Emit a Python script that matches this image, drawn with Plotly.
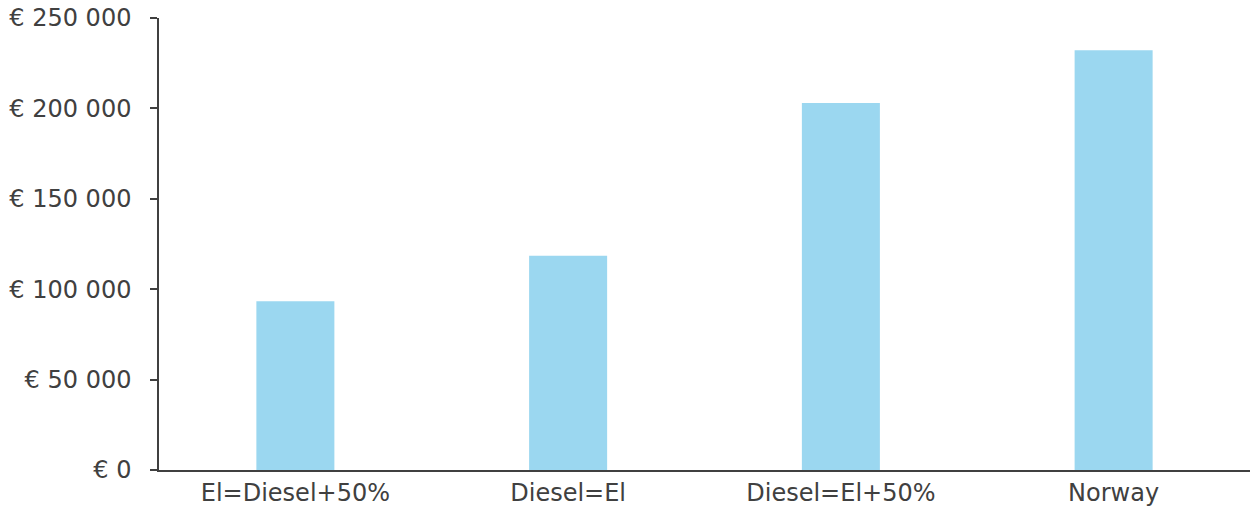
import plotly.graph_objects as go

categories = ["El=Diesel+50%", "Diesel=El", "Diesel=El+50%", "Norway"]
values = [93400, 118500, 203000, 232200]
y_tick_vals = [0, 50000, 100000, 150000, 200000, 250000]
y_tick_text = ["€ 0", "€ 50 000", "€ 100 000", "€ 150 000", "€ 200 000", "€ 250 000"]

fig = go.Figure()
fig.add_trace(go.Bar(
    x=categories, y=values,
    marker=dict(color="#9BD7F0", line=dict(width=0)),
    width=0.286,
))

font = dict(family="DejaVu Sans, Verdana, sans-serif", size=24, color="#404040")

fig.update_layout(
    width=1250, height=508,
    margin=dict(l=158.5, r=0, t=18, b=38),
    paper_bgcolor="white", plot_bgcolor="white",
    font=font,
    showlegend=False,
)
fig.update_xaxes(
    range=[-0.5, 3.5],
    showline=True, linecolor="#404040", linewidth=1.5,
    ticks="", showgrid=False, zeroline=False,
    tickfont=dict(size=24),
)
fig.update_yaxes(
    range=[0, 250000],
    tickvals=y_tick_vals, ticktext=y_tick_text,
    showline=True, linecolor="#404040", linewidth=1.5,
    ticks="outside", ticklen=7, tickcolor="#404040", tickwidth=1.5,
    showgrid=False, zeroline=False,
    tickfont=dict(size=24),
    ticklabelstandoff=14,
)

fig.write_html(
    "out.html",
    config={"displayModeBar": False},
    post_script="document.body.style.margin='0';document.body.style.overflow='hidden';",
)
